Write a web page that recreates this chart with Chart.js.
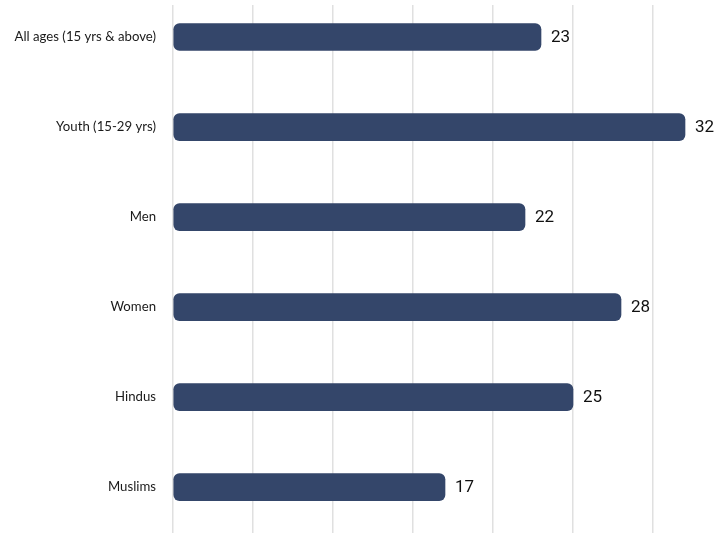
<!DOCTYPE html>
<html>
<head>
<meta charset="utf-8">
<script src="https://cdn.jsdelivr.net/npm/chart.js@4/dist/chart.umd.min.js"></script>
<style>
  html, body { margin: 0; padding: 0; background: #ffffff; }
  #wrap { width: 720px; height: 533px; position: relative; }
</style>
</head>
<body>
<div id="wrap"><canvas id="chart"></canvas></div>
<script>
// Unemployment rate (%) by group
const categories = [
  'All ages (15 yrs & above)',
  'Youth (15-29 yrs)',
  'Men',
  'Women',
  'Hindus',
  'Muslims'
];
const values = [23, 32, 22, 28, 25, 17];

const barColor = '#34466A';
const gridColor = '#E0E0E0';

// Writes each bar's value just past its right end
const valueLabels = {
  id: 'valueLabels',
  afterDatasetsDraw(chart) {
    const ctx = chart.ctx;
    const meta = chart.getDatasetMeta(0);
    ctx.save();
    ctx.font = '17px Roboto, "Liberation Sans", sans-serif';
    ctx.fillStyle = '#111111';
    ctx.textAlign = 'left';
    ctx.textBaseline = 'middle';
    meta.data.forEach((bar, i) => {
      ctx.fillText(String(values[i]), bar.x + 10, bar.y + 1);
    });
    ctx.restore();
  }
};

new Chart(document.getElementById('chart'), {
  type: 'bar',
  data: {
    datasets: [{
      data: values.map((v, i) => ({ x: v, y: i })),
      backgroundColor: barColor,
      borderWidth: 0,
      borderRadius: 6,
      borderSkipped: false,
      barThickness: 27
    }]
  },
  options: {
    indexAxis: 'y',
    responsive: true,
    maintainAspectRatio: false,
    animation: false,
    layout: { padding: { top: 5, right: 3, bottom: 0, left: 0 } },
    plugins: {
      legend: { display: false },
      tooltip: { enabled: false }
    },
    scales: {
      x: {
        type: 'linear',
        min: 0,
        max: 34,
        ticks: { display: false, stepSize: 5 },
        border: { display: false },
        grid: {
          drawTicks: false,
          lineWidth: 1.5,
          color: (c) => (c.tick && c.tick.value % 5 === 0) ? gridColor : 'rgba(0,0,0,0)'
        }
      },
      y: {
        // numeric index axis so each row sits at an integer position
        type: 'linear',
        reverse: true,
        min: -0.356,
        max: 5.51,
        offset: false,
        afterBuildTicks(scale) {
          scale.ticks = categories.map((_, i) => ({ value: i }));
        },
        afterFit(scale) {
          scale.width = 173;
          scale.paddingTop = 0;
          scale.paddingBottom = 0;
        },
        ticks: {
          padding: 17,
          color: '#1a1a1a',
          font: { family: 'Lato, "Noto Sans", sans-serif', size: 13.2 },
          callback: (v) => categories[v]
        },
        border: { display: false },
        grid: { display: false, drawTicks: false, offset: false }
      }
    }
  },
  plugins: [valueLabels]
});
</script>
</body>
</html>
